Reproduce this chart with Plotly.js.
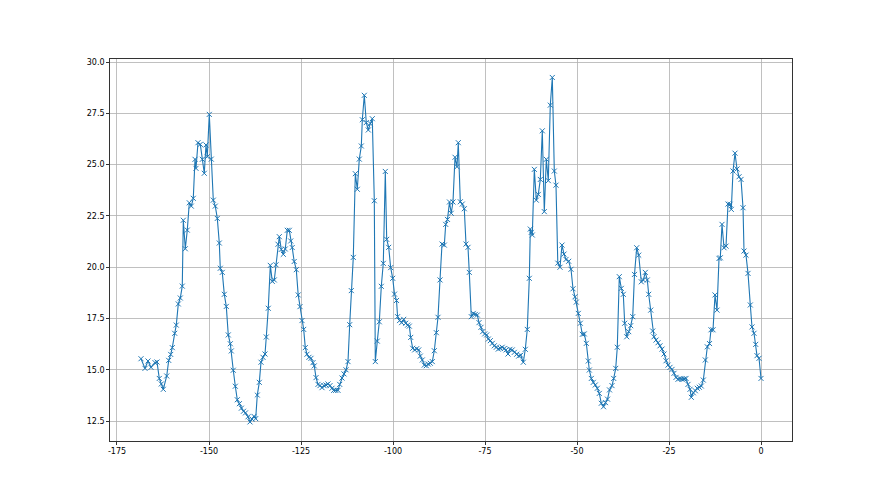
<!DOCTYPE html>
<html>
<head>
<meta charset="utf-8">
<script src="https://cdn.plot.ly/plotly-3.0.1.min.js"></script>
<style>html,body{margin:0;padding:0;background:#fff;}#chart{width:880px;height:495px;}</style>
</head>
<body>
<div id="chart"></div>
<script>
const xValues = [
-168.48,-167.39,-166.58,-165.76,-164.67,-164.13,-163.51,-162.96,-162.42,-161.49,-160.95,-160.41,-159.97,-159.32,-158.89,-158.34,-157.80,-157.26,-156.98,-156.44,-155.90,-155.35,-154.81,
-154.27,-153.80,-153.53,-152.99,-152.36,-151.82,-151.28,-150.82,-150.46,-149.92,-149.38,-148.83,-148.29,-147.74,-147.20,-146.93,-146.39,-145.84,-145.30,-144.76,-144.21,-143.94,-143.40,-142.85,-142.31,-141.74,-141.20,-140.63,-140.08,
-139.40,-138.86,-138.32,-137.77,-137.31,-136.88,-136.33,-135.87,-135.33,-134.78,-134.43,-133.89,-133.34,-132.80,-132.26,-131.79,-131.25,-130.90,-130.35,-129.81,-129.27,-128.72,-128.18,-127.80,-127.39,-126.85,-126.28,-125.76,
-125.27,-124.73,-124.27,-123.83,-123.37,-122.83,-122.28,-121.74,-121.39,-120.92,-120.38,-119.84,-119.29,-118.75,-118.21,-117.66,-117.12,-116.58,-116.11,-115.57,-114.95,-114.48,-113.86,-113.32,-112.77,-112.23,-111.77,-111.33,
-110.79,-110.24,-109.70,-109.16,-108.61,-108.34,-107.80,-107.26,-106.71,-106.17,-105.63,-105.08,-104.81,-104.27,-103.72,-103.18,-102.64,-102.09,-101.71,-101.17,-100.63,-100.08,-99.59,-99.05,-98.75,-98.21,-97.66,
-97.09,-96.55,-96.01,-95.57,-95.19,-94.65,-94.10,-93.56,-93.02,-92.58,-92.04,-91.49,-90.95,-90.41,-89.86,-89.32,-88.78,-88.23,-87.77,-87.23,-86.68,-86.06,-85.68,-85.19,-84.65,-84.18,-83.70,
-83.15,-82.61,-82.26,-81.71,-81.17,-80.63,-80.16,-79.62,-79.27,-78.72,-78.18,-77.64,-77.09,-76.63,-76.09,-75.63,-75.08,-74.54,-74.10,-73.56,-73.02,-72.47,-71.93,-71.39,-70.84,-70.33,-69.76,
-69.29,-68.75,-68.21,-67.58,-67.04,-66.39,-65.84,-65.30,-64.59,-64.05,-63.51,-62.96,-62.69,-62.42,-62.15,-61.60,-61.06,-60.52,-59.97,-59.43,-58.89,-58.34,-57.80,-57.26,-56.71,-56.17,-55.71,-55.22,
-54.62,-54.08,-53.53,-52.99,-52.26,-51.63,-51.09,-50.54,-50.19,-49.65,-49.10,-48.56,-48.02,-47.47,-46.93,-46.66,-46.11,-45.57,-45.03,-44.48,-43.94,-43.40,-42.80,-42.26,-41.71,-41.17,
-40.49,-40.03,-39.48,-39.05,-38.51,-37.96,-37.42,-37.04,-36.49,-35.95,-35.41,-34.86,-34.38,-33.78,-33.23,-32.53,-31.98,-31.44,-30.90,-30.52,-29.97,-29.43,-29.08,-28.53,-27.99,-27.45,-26.90,
-26.36,-25.82,-25.27,-24.73,-24.18,-23.64,-23.10,-22.55,-22.01,-21.47,-20.92,-20.38,-19.84,-19.29,-18.94,-18.40,-17.85,-17.31,-16.77,-16.22,-15.68,-15.14,-14.59,-13.99,-13.59,-13.04,
-12.50,-11.96,-11.41,-11.06,-10.60,-10.05,-9.51,-8.97,-8.42,-8.07,-7.61,-7.07,-6.52,-5.98,-5.43,-4.89,-4.62,-4.08,-3.53,-2.91,-2.45,-1.90,-1.44,-1.09,-0.54,0
];
const yValues = [
15.54,15.07,15.43,15.12,15.35,15.38,14.58,14.31,14.05,14.70,15.46,15.75,16.08,16.78,17.18,18.21,18.50,19.08,22.29,20.90,21.81,23.14,22.98,
23.36,25.26,24.82,26.07,25.99,25.26,24.58,25.96,25.39,27.45,25.27,23.27,22.98,22.38,21.18,19.95,19.75,18.68,18.09,16.70,16.27,15.92,14.98,14.20,13.54,13.35,13.13,12.98,12.90,
12.71,12.46,12.60,12.73,12.62,13.77,14.39,15.37,15.61,15.77,16.60,18.00,20.09,19.31,19.38,20.12,21.12,21.49,20.87,20.63,20.89,21.80,21.80,21.28,20.96,20.28,19.88,18.65,
18.08,17.40,16.97,16.08,15.76,15.61,15.56,15.35,15.19,14.62,14.29,14.23,14.13,14.23,14.26,14.31,14.23,14.10,14.00,14.00,14.00,14.29,14.60,14.80,15.00,15.40,17.20,18.86,
20.48,24.56,23.80,25.27,25.91,27.19,28.38,27.05,26.69,27.00,27.24,23.24,15.40,16.40,17.34,19.07,20.19,24.67,21.36,20.97,19.98,19.46,18.69,18.38,17.59,17.40,17.30,
17.46,17.27,17.18,17.13,16.58,16.05,15.97,16.03,15.97,15.67,15.48,15.23,15.20,15.28,15.32,15.40,15.93,16.81,17.56,19.38,21.13,21.08,22.09,22.33,23.18,22.63,23.18,
25.36,24.90,26.07,23.19,23.08,22.85,21.13,20.97,19.75,17.59,17.75,17.70,17.67,17.30,17.07,16.86,16.75,16.70,16.50,16.42,16.29,16.17,16.10,16.01,16.05,16.10,16.04,
15.97,15.77,16.00,15.97,15.85,15.76,15.67,15.71,15.37,16.00,16.97,19.46,21.86,21.70,21.57,24.77,23.27,23.55,24.28,26.65,22.71,25.26,24.22,27.90,29.25,24.69,24.00,20.20,
20.00,21.08,20.64,20.38,20.29,19.90,18.95,18.56,18.30,17.75,17.27,16.73,16.75,16.29,15.43,14.99,14.58,14.39,14.26,14.10,13.85,13.37,13.20,13.40,13.57,14.02,
14.23,14.58,15.07,16.10,19.54,18.97,18.68,17.27,16.61,16.86,17.15,17.59,19.65,20.95,20.59,19.29,19.38,19.75,19.38,18.68,17.91,16.89,16.61,16.45,16.32,16.17,16.01,
15.77,15.44,15.23,15.12,15.02,14.83,14.63,14.54,14.57,14.54,14.55,14.58,14.29,14.05,13.66,13.88,13.98,14.10,14.15,14.21,14.50,15.48,16.12,16.28,16.95,16.95,
18.65,17.91,20.43,20.46,22.09,20.95,21.03,23.08,23.07,22.82,24.69,25.56,24.79,24.41,24.28,22.90,20.79,20.59,19.70,18.16,17.09,16.78,16.24,15.69,15.56,14.58
];
const xTicks = [-175, -150, -125, -100, -75, -50, -25, 0];
const yTicks = [12.5, 15.0, 17.5, 20.0, 22.5, 25.0, 27.5, 30.0];

const trace = {
  x: xValues, y: yValues, type: 'scatter', mode: 'lines+markers',
  line: {color: '#1f77b4', width: 1.1},
  marker: {symbol: 'x-thin-open', size: 5, color: '#1f77b4', line: {color: '#1f77b4', width: 1}},
  hoverinfo: 'none'
};
const axisCommon = {
  showline: true, linecolor: '#000', linewidth: 0.8, mirror: true,
  ticks: 'outside', ticklen: 3, tickwidth: 0.8, tickcolor: '#000',
  showgrid: true, gridcolor: '#b0b0b0', gridwidth: 0.8, zeroline: false,
  tickfont: {family: 'DejaVu Sans', size: 8, color: '#000'}
};
const layout = {
  width: 880, height: 495,
  margin: {l: 110, r: 88, t: 59, b: 54},
  paper_bgcolor: '#fff', plot_bgcolor: '#fff',
  showlegend: false,
  xaxis: Object.assign({}, axisCommon, {range: [-176.9, 8.42], tickvals: xTicks, ticktext: xTicks.map(String)}),
  yaxis: Object.assign({}, axisCommon, {range: [11.53, 30.15], tickvals: yTicks, ticktext: yTicks.map(v => v.toFixed(1))})
};
Plotly.newPlot('chart', [trace], layout, {displayModeBar: false, staticPlot: true});
</script>
</body>
</html>
